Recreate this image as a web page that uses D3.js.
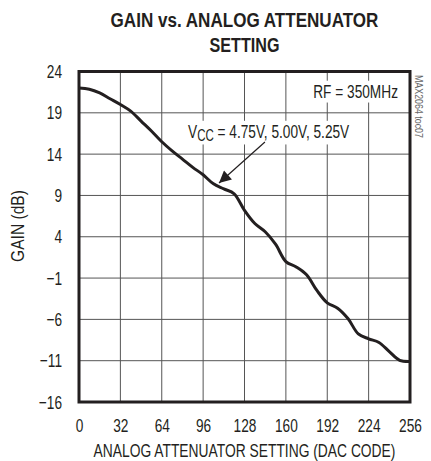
<!DOCTYPE html>
<html>
<head>
<meta charset="utf-8">
<script src="https://cdn.jsdelivr.net/npm/d3@7"></script>
<style>
  body { margin: 0; background: #fff; }
  svg { display: block; }
  text { font-family: "Liberation Sans", Arial, sans-serif; fill: #231f20; }
</style>
</head>
<body>
<svg id="chart" width="431" height="461"></svg>
<script>
// DAC code vs gain (dB)
var dacCode = [0, 8, 16, 24, 32, 40, 48, 56, 64, 72, 80, 88, 96, 104, 112, 120, 128,
               136, 144, 152, 160, 168, 176, 184, 192, 200, 208, 216, 224, 232, 240, 248, 256];
var gainDb = [22.0, 21.85, 21.4, 20.7, 20.0, 19.2, 18.0, 16.8, 15.5, 14.4, 13.4, 12.4, 11.5, 10.4, 9.8, 9.2, 7.2,
              5.6, 4.6, 3.1, 1.0, 0.35, -0.6, -2.5, -4.0, -4.65, -5.9, -7.75, -8.35, -8.8, -9.9, -10.95, -11.1];

var xTicks = [0, 32, 64, 96, 128, 160, 192, 224, 256];
var yTicks = [-16, -11, -6, -1, 4, 9, 14, 19, 24];

var titleLines = ["GAIN vs. ANALOG ATTENUATOR", "SETTING"];
var xTitle = "ANALOG ATTENUATOR SETTING (DAC CODE)";
var yTitle = "GAIN (dB)";

(function() {
var svg = d3.select("#chart");
var pL = 79, pR = 410, pT = 71.5, pB = 402;
var squeeze = 0.72;

var x = d3.scaleLinear().domain([0, 256]).range([pL, pR]);
var y = d3.scaleLinear().domain([-16, 24]).range([pB, pT]);

// place a text at (tx,ty), squeezed sideways to width w, optionally rotated
function place(sel, tx, ty, w, rot) {
    var k = w / sel.node().getComputedTextLength();
    sel.attr("transform", "translate(" + tx + "," + ty + ")" + (rot ? " rotate(" + rot + ")" : "") + " scale(" + k + ",1)");
}

// title
var tWidths = [268, 70];
svg.append("g").selectAll("text")
    .data(titleLines)
    .enter().append("text")
    .attr("text-anchor", "middle")
    .style("font-weight", "bold")
    .style("font-size", "21px")
    .text(function(d) { return d; })
    .each(function(d, i) { place(d3.select(this), (pL + pR) / 2, 27 + i * 25, tWidths[i]); });

// grid
var grid = svg.append("g").attr("stroke", "#555").attr("stroke-width", 1);
grid.selectAll("line.v").data(xTicks.slice(1, -1)).enter().append("line")
    .attr("x1", function(d) { return x(d); }).attr("x2", function(d) { return x(d); })
    .attr("y1", pT).attr("y2", pB);
grid.selectAll("line.h").data(yTicks.slice(1, -1)).enter().append("line")
    .attr("x1", pL).attr("x2", pR)
    .attr("y1", function(d) { return y(d); }).attr("y2", function(d) { return y(d); });

// axes (labels only)
var xAxis = svg.append("g")
    .attr("transform", "translate(0," + pB + ")")
    .call(d3.axisBottom(x).tickValues(xTicks).tickSize(0).tickPadding(30));
var yAxis = svg.append("g")
    .attr("transform", "translate(" + pL + ",0)")
    .call(d3.axisLeft(y).tickValues(yTicks).tickSize(0).tickPadding(17 / squeeze));
[xAxis, yAxis].forEach(function(a) {
    a.select(".domain").remove();
    a.selectAll("text")
        .style("font-size", "19px")
        .attr("font-family", null)
        .attr("fill", "#231f20")
        .attr("transform", "scale(" + squeeze + ",1)");
});
xAxis.selectAll("text").attr("dy", null);

// axis titles
svg.append("text")
    .attr("text-anchor", "middle")
    .style("font-size", "19px")
    .text(xTitle)
    .call(place, (pL + pR) / 2, 457, 302);
svg.append("text")
    .attr("text-anchor", "middle")
    .style("font-size", "19px")
    .text(yTitle)
    .call(place, 24, 226, 72, -90);

var curveLayer = svg.append("g").attr("id", "curve");

// annotations with white backing
function backed(sel) {
    var b = sel.node().getBoundingClientRect();
    svg.insert("rect", "#curve")
        .attr("x", b.x - 3).attr("y", b.y)
        .attr("width", b.width + 6).attr("height", b.height)
        .attr("fill", "#fff");
}

var rf = svg.append("text")
    .attr("transform", "translate(" + x(246.7) + "," + y(20.8) + ") scale(" + squeeze + ",1)")
    .attr("text-anchor", "end")
    .style("font-size", "19px")
    .text("RF = 350MHz");
backed(rf);

var vcc = svg.append("text")
    .attr("transform", "translate(" + x(84.3) + "," + y(15.95) + ") scale(" + squeeze + ",1)")
    .style("font-size", "19px");
vcc.append("tspan").text("V");
vcc.append("tspan").attr("dy", 3).style("font-size", "16px").text("CC");
vcc.append("tspan").attr("dy", -3).text(" = 4.75V, 5.00V, 5.25V");
backed(vcc);

// curve
var line = d3.line()
    .x(function(d, i) { return x(dacCode[i]); })
    .y(function(d) { return y(d); })
    .curve(d3.curveCatmullRom.alpha(0.5));
curveLayer.append("path")
    .attr("d", line(gainDb))
    .attr("fill", "none")
    .attr("stroke", "#231f20")
    .attr("stroke-width", 3)
    .attr("stroke-linejoin", "round");

// arrow
svg.append("defs").append("marker")
    .attr("id", "head")
    .attr("viewBox", "0 0 10 10").attr("refX", 10).attr("refY", 5)
    .attr("markerWidth", 14).attr("markerHeight", 12)
    .attr("markerUnits", "userSpaceOnUse")
    .attr("orient", "auto")
    .append("path").attr("d", "M0,0L10,5L0,10z").attr("fill", "#231f20");
svg.append("line")
    .attr("x1", x(143.8)).attr("y1", y(15.47))
    .attr("x2", x(108.3)).attr("y2", y(10.5))
    .attr("stroke", "#231f20").attr("stroke-width", 1.2)
    .attr("marker-end", "url(#head)");

// frame
svg.append("rect")
    .attr("x", pL).attr("y", pT)
    .attr("width", pR - pL).attr("height", pB - pT)
    .attr("fill", "none").attr("stroke", "#231f20").attr("stroke-width", 3);

// figure id
svg.append("text")
    .style("font-size", "10px")
    .style("fill", "#666")
    .text("MAX2064 toc07")
    .call(place, 415, 75, 63, 90);
})();
</script>
</body>
</html>
